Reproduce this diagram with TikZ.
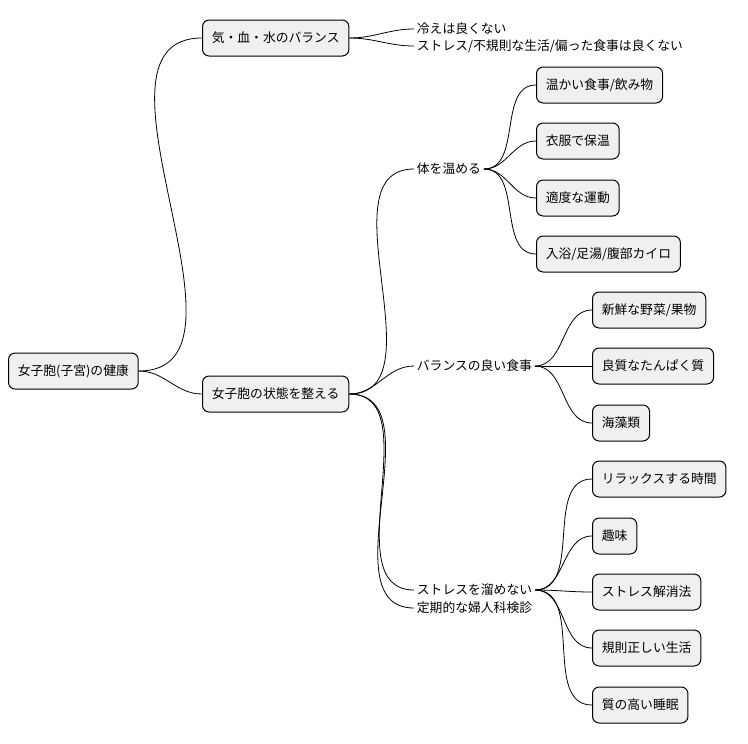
\documentclass[tikz,border=0pt]{standalone}
\usepackage{fontspec}
\newfontfamily\cjk{Noto Sans CJK JP}
\begin{document}
\begin{tikzpicture}[x=0.75pt,y=-0.75pt,
  box/.style={draw=black,fill=black!6,rounded corners=5pt,line width=0.75pt,minimum height=27pt,inner xsep=7pt,anchor=west,font=\cjk\fontsize{9.6}{11}\selectfont},
  txt/.style={inner xsep=2pt,inner ysep=1pt,anchor=west,font=\cjk\fontsize{9.6}{11}\selectfont},
  conn/.style={line width=0.6pt,out=0,in=180}]
\useasboundingbox (0,0) rectangle (748,743);
\node[box] (root) at (8,371) {女子胞(子宮)の健康};
\node[box] (kb) at (202,38) {気・血・水のバランス};
\node[box] (st) at (202,394) {女子胞の状態を整える};
\node[txt] (h1) at (414,29) {冷えは良くない};
\node[txt] (h2) at (414,46) {ストレス/不規則な生活/偏った食事は良くない};
\node[txt] (w) at (414,169) {体を温める};
\node[box] (w1) at (536,85) {温かい食事/飲み物};
\node[box] (w2) at (536,141) {衣服で保温};
\node[box] (w3) at (536,198) {適度な運動};
\node[box] (w4) at (536,254) {入浴/足湯/腹部カイロ};
\node[txt] (f) at (414,366) {バランスの良い食事};
\node[box] (f1) at (592,310) {新鮮な野菜/果物};
\node[box] (f2) at (592,366) {良質なたんぱく質};
\node[box] (f3) at (592,423) {海藻類};
\node[txt] (s) at (414,590) {ストレスを溜めない};
\node[txt] (c) at (414,608) {定期的な婦人科検診};
\node[box] (s1) at (592,479) {リラックスする時間};
\node[box] (s2) at (592,536) {趣味};
\node[box] (s3) at (592,592) {ストレス解消法};
\node[box] (s4) at (592,648) {規則正しい生活};
\node[box] (s5) at (592,705) {質の高い睡眠};
\draw[conn] (root.east) to (kb.west);
\draw[conn] (root.east) to (st.west);
\draw[conn] (kb.east) to (h1.west);
\draw[conn] (kb.east) to (h2.west);
\foreach \t in {w,f,s,c} \draw[conn] (st.east) to (\t.west);
\foreach \t in {w1,w2,w3,w4} \draw[conn] (w.east) to (\t.west);
\foreach \t in {f1,f2,f3} \draw[conn] (f.east) to (\t.west);
\foreach \t in {s1,s2,s3,s4,s5} \draw[conn] (s.east) to (\t.west);
\end{tikzpicture}
\end{document}
